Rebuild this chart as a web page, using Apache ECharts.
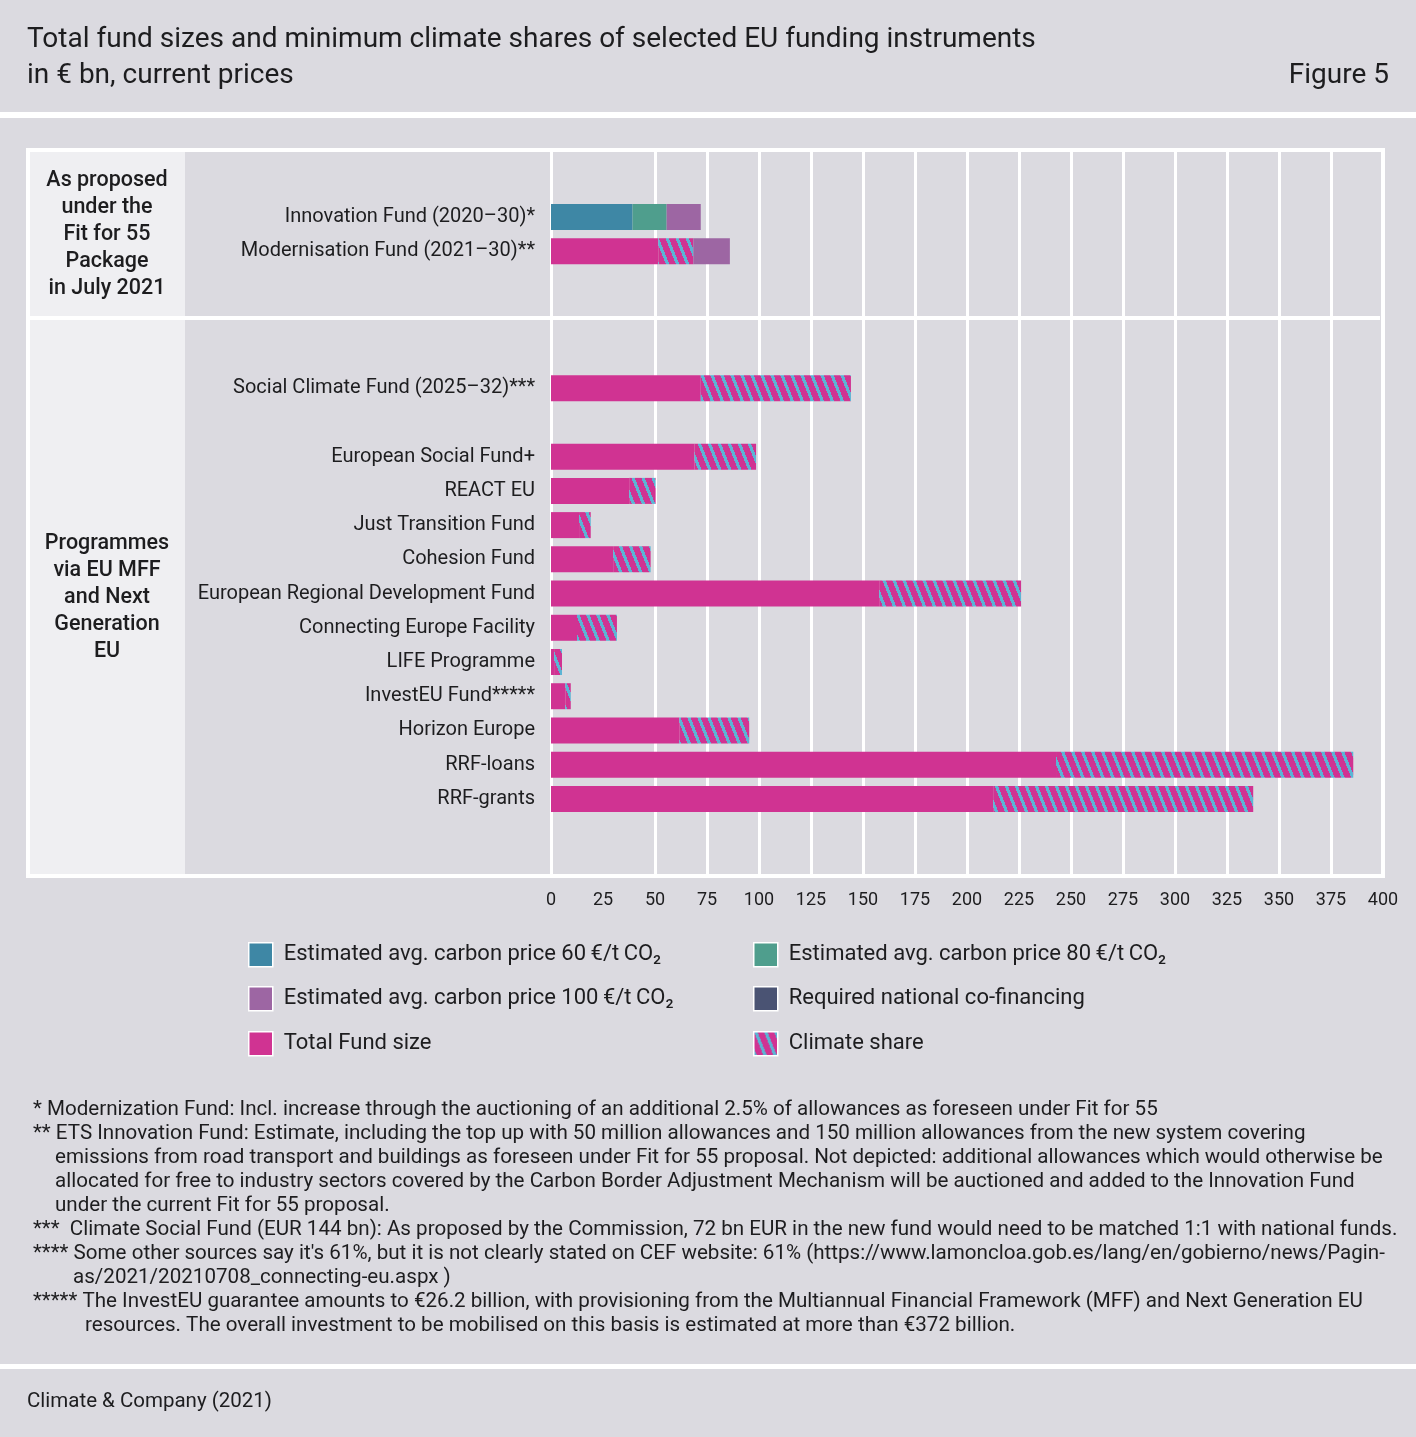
<!DOCTYPE html>
<html>
<head>
<meta charset="utf-8">
<script src="https://cdn.jsdelivr.net/npm/echarts@6/dist/echarts.min.js"></script>
<style>
html,body{margin:0;padding:0;background:#dbdae0;}
#c{width:1416px;height:1437px;}
</style>
</head>
<body>
<div id="c"></div>
<script>
// ---- data ----
const categories = [
  'Innovation Fund (2020–30)*',
  'Modernisation Fund (2021–30)**',
  '_b1', '_b2', '_b3',
  'Social Climate Fund (2025–32)***',
  '_b4',
  'European Social Fund+',
  'REACT EU',
  'Just Transition Fund',
  'Cohesion Fund',
  'European Regional Development Fund',
  'Connecting Europe Facility',
  'LIFE Programme',
  'InvestEU Fund*****',
  'Horizon Europe',
  'RRF-loans',
  'RRF-grants'
];
const price60  = [39.2, null, null, null, null, null, null, null, null, null, null, null, null, null, null, null, null, null];
const price80  = [16.4, null, null, null, null, null, null, null, null, null, null, null, null, null, null, null, null, null];
const totalFund = [null, 51.6, null, null, null, 72, null, 69, 37.6, 13.5, 29.9, 157.8, 12.5, 1.5, 6.9, 61.7, 242.8, 212.6];
const climateShare = [null, 16.8, null, null, null, 72.2, null, 29.6, 12.7, 5.6, 18, 68.2, 19.2, 3.8, 2.6, 33.6, 142.9, 125];
const price100 = [16.4, 17.6, null, null, null, null, null, null, null, null, null, null, null, null, null, null, null, null];
const coFinancing = [];
const gridTicks = [0, 50, 75, 100, 125, 150, 175, 200, 225, 250, 275, 300, 325, 350, 375, 400];

const names = {
  p60: 'Estimated avg. carbon price 60\u2009€/t\u2009CO₂',
  p80: 'Estimated avg. carbon price 80\u2009€/t\u2009CO₂',
  p100: 'Estimated avg. carbon price 100\u2009€/t\u2009CO₂',
  co: 'Required national co-financing',
  total: 'Total Fund size',
  climate: 'Climate share'
};

const footnotes = [
  [33, '* Modernization Fund: Incl. increase through the auctioning of an additional 2.5% of allowances as foreseen under Fit for 55'],
  [33, '** ETS Innovation Fund: Estimate, including the top up with 50 million allowances and 150 million allowances from the new system covering'],
  [55, 'emissions from road transport and buildings as foreseen under Fit for 55 proposal. Not depicted: additional allowances which would otherwise be'],
  [55, 'allocated for free to industry sectors covered by the Carbon Border Adjustment Mechanism will be auctioned and added to the Innovation Fund'],
  [55, 'under the current Fit for 55 proposal.'],
  [33, '***  Climate Social Fund (EUR 144 bn): As proposed by the Commission, 72 bn EUR in the new fund would need to be matched 1:1 with national funds.'],
  [33, "**** Some other sources say it's 61%, but it is not clearly stated on CEF website: 61% (https://www.lamoncloa.gob.es/lang/en/gobierno/news/Pagin-"],
  [73, 'as/2021/20210708_connecting-eu.aspx )'],
  [33, '***** The InvestEU guarantee amounts to €26.2 billion, with provisioning from the Multiannual Financial Framework (MFF) and Next Generation EU'],
  [85, 'resources. The overall investment to be mobilised on this basis is estimated at more than €372 billion.']
];

// ---- styles ----
const FONT = 'Roboto, "Noto Sans", sans-serif';
const TXT = '#1d1d1f';
const C60 = '#3e87a5', C80 = '#4f9e8d', C100 = '#9d66a3', CPINK = '#d03392', CNAVY = '#4a5373';

function makeHatch() {
  const W = 10, H = 25;
  const c = document.createElement('canvas');
  c.width = W; c.height = H;
  const ctx = c.getContext('2d');
  const img = ctx.createImageData(W, H);
  for (let y = 0; y < H; y++) {
    for (let x = 0; x < W; x++) {
      const u = (((x - y * W / H) % W) + W) % W;
      const blue = u < 3.4;
      const i = (y * W + x) * 4;
      if (blue) { img.data[i] = 92; img.data[i+1] = 180; img.data[i+2] = 212; }
      else { img.data[i] = 208; img.data[i+1] = 51; img.data[i+2] = 146; }
      img.data[i+3] = 255;
    }
  }
  ctx.putImageData(img, 0, 0);
  return c;
}
const hatch = { image: makeHatch(), repeat: 'repeat' };

const chart = echarts.init(document.getElementById('c'), null, { renderer: 'canvas' });

function barSeries(name, data, color) {
  return {
    name, type: 'bar', stack: 'a', xAxisIndex: 1, yAxisIndex: 1,
    data, barWidth: 26, z: 10,
    itemStyle: { color },
    emphasis: { disabled: true }
  };
}

function legendAt(name, left, top) {
  return {
    data: [name], left, top, padding: 0,
    orient: 'horizontal', icon: 'rect',
    itemWidth: 24, itemHeight: 24,
    selectedMode: false,
    itemStyle: { borderColor: '#ffffff', borderWidth: 1.5 },
    textStyle: { fontFamily: FONT, fontSize: 22, color: TXT, padding: [0, 0, 0, 6] }
  };
}

const graphics = [
  // header separator
  { type: 'rect', shape: { x: 0, y: 112, width: 1416, height: 6 }, style: { fill: '#ffffff' }, z: -10 },
  // bottom separator
  { type: 'rect', shape: { x: 0, y: 1364, width: 1416, height: 5 }, style: { fill: '#ffffff' }, z: -10 },
  // left panel
  { type: 'rect', shape: { x: 29, y: 151, width: 156, height: 725 }, style: { fill: '#efeff2' }, z: -10 },
  // frame
  { type: 'rect', shape: { x: 28, y: 150, width: 1355, height: 726 }, style: { fill: 'none', stroke: '#ffffff', lineWidth: 4 }, z: -9 },
  // group separator
  { type: 'rect', shape: { x: 28, y: 316, width: 1352, height: 4 }, style: { fill: '#ffffff' }, z: -9 },
  // titles
  { type: 'text', x: 27, y: 40, style: { text: 'Total fund sizes and minimum climate shares of selected EU funding instruments', font: '28px ' + FONT, fill: TXT, textVerticalAlign: 'middle' } },
  { type: 'text', x: 27, y: 76, style: { text: 'in € bn, current prices', font: '28px ' + FONT, fill: TXT, textVerticalAlign: 'middle' } },
  { type: 'text', x: 1389, y: 76, style: { text: 'Figure 5', font: '28px ' + FONT, fill: TXT, textAlign: 'right', textVerticalAlign: 'middle' } },
  // source
  { type: 'text', x: 27, y: 1402, style: { text: 'Climate & Company (2021)', font: '20.5px ' + FONT, fill: TXT, textVerticalAlign: 'middle' } }
];

const panelA = ['As proposed', 'under the', 'Fit for 55', 'Package', 'in July 2021'];
const panelB = ['Programmes', 'via EU MFF', 'and Next', 'Generation', 'EU'];
panelA.forEach((t, i) => graphics.push({ type: 'text', x: 107, y: 181 + i * 27,
  style: { text: t, font: '500 21.5px ' + FONT, fill: TXT, textAlign: 'center', textVerticalAlign: 'middle' } }));
panelB.forEach((t, i) => graphics.push({ type: 'text', x: 107, y: 544 + i * 27,
  style: { text: t, font: '500 21.5px ' + FONT, fill: TXT, textAlign: 'center', textVerticalAlign: 'middle' } }));
footnotes.forEach((f, i) => graphics.push({ type: 'text', x: f[0], y: 1110 + i * 24,
  style: { text: f[1], font: '20.6px ' + FONT, fill: TXT, textVerticalAlign: 'middle' } }));

const option = {
  animation: false,
  backgroundColor: '#dbdae0',
  textStyle: { fontFamily: FONT },
  grid: [
    { left: 551, right: 33, top: 152, height: 723, containLabel: false },
    { left: 551, right: 33, top: 200, height: 616, containLabel: false }
  ],
  xAxis: [
    { gridIndex: 0, type: 'value', min: 0, max: 400, interval: 25,
      axisLine: { show: false }, axisTick: { show: false }, splitLine: { show: false },
      axisLabel: { fontFamily: FONT, fontSize: 18, color: TXT, margin: 16 } },
    { gridIndex: 1, type: 'value', min: 0, max: 400, interval: 25, show: false,
      splitLine: { show: false } }
  ],
  yAxis: [
    { gridIndex: 0, type: 'value', min: 0, max: 1, show: false, splitLine: { show: false } },
    { gridIndex: 1, type: 'category', inverse: true, data: categories,
      axisLine: { show: false }, axisTick: { show: false }, splitLine: { show: false },
      axisLabel: { fontFamily: FONT, fontSize: 20, color: TXT, margin: 16,
        formatter: v => v.startsWith('_b') ? '' : v } }
  ],
  legend: [
    legendAt(names.p60, 248, 942),
    legendAt(names.p80, 753, 942),
    legendAt(names.p100, 248, 986),
    legendAt(names.co, 753, 986),
    legendAt(names.total, 248, 1031),
    legendAt(names.climate, 753, 1031)
  ],
  series: [
    { type: 'line', xAxisIndex: 0, yAxisIndex: 0, data: [], silent: true, z: 1,
      markLine: { silent: true, symbol: 'none', label: { show: false }, z: 1,
        lineStyle: { color: '#ffffff', width: 3, type: 'solid' },
        emphasis: { disabled: true },
        data: gridTicks.map(v => ({ xAxis: v })) } },
    barSeries(names.p60, price60, C60),
    barSeries(names.p80, price80, C80),
    barSeries(names.total, totalFund, CPINK),
    barSeries(names.climate, climateShare, hatch),
    barSeries(names.p100, price100, C100),
    barSeries(names.co, coFinancing, CNAVY)
  ],
  graphic: graphics
};
chart.setOption(option);
</script>
</body>
</html>
